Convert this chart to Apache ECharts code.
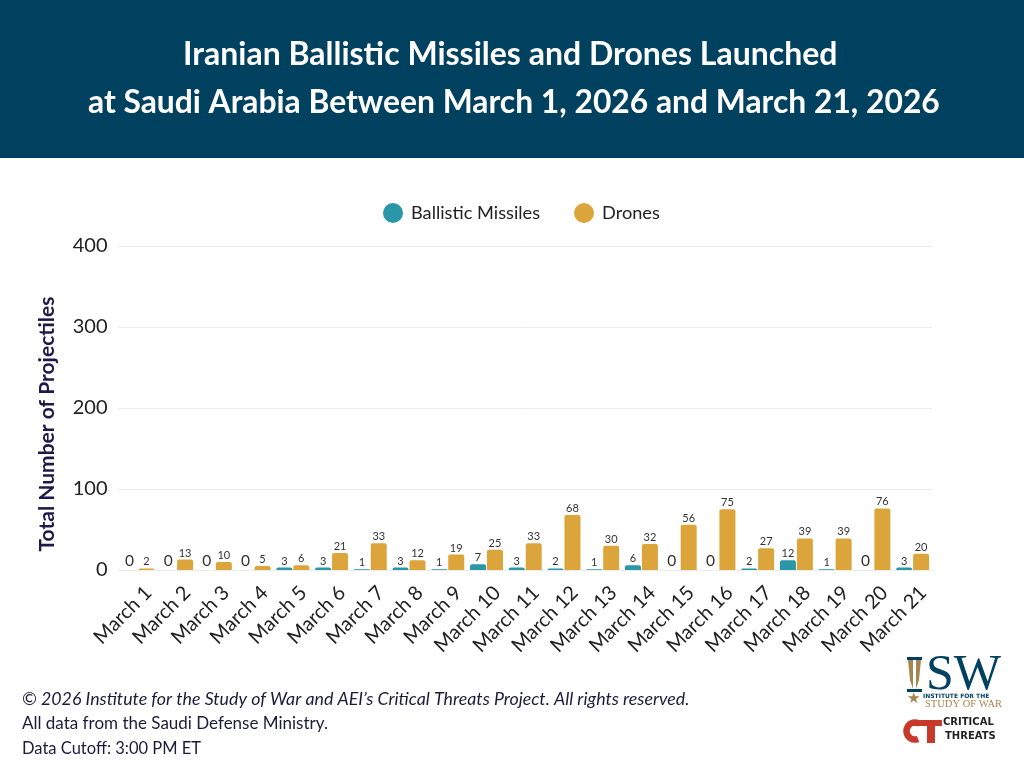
<!DOCTYPE html>
<html><head><meta charset="utf-8">
<style>html,body{margin:0;padding:0;background:#fff}#c{width:1024px;height:768px}</style>
<script src="https://cdn.jsdelivr.net/npm/echarts@6/dist/echarts.min.js"></script>
</head><body><div id="c"></div>
<script>
const categories = ['March 1','March 2','March 3','March 4','March 5','March 6','March 7','March 8','March 9','March 10','March 11','March 12','March 13','March 14','March 15','March 16','March 17','March 18','March 19','March 20','March 21'];
const ballisticMissiles = [0,0,0,0,3,3,1,3,1,7,3,2,1,6,0,0,2,12,1,0,3];
const drones = [2,13,10,5,6,21,33,12,19,25,33,68,30,32,56,75,27,39,39,76,20];
const yTicks = [0,100,200,300,400];
const titleLines = ['Iranian Ballistic Missiles and Drones Launched','at Saudi Arabia Between March 1, 2026 and March 21, 2026'];
const footerLines = ['© 2026 Institute for the Study of War and AEI’s Critical Threats Project. All rights reserved.','All data from the Saudi Defense Ministry.','Data Cutoff: 3:00 PM ET'];

const BLUE='#2a97a8', GOLD='#dca53c', NAVY='#00415f', RED='#c8392b', TAN='#a5864f', FONT='Lato';
const withLabels = arr => arr.map(v => ({
  value: v,
  label: {show:true, position:'top', distance:1, color:'#333', fontFamily:FONT,
          fontSize: v===0 ? 15.5 : 11}
}));
const chart = echarts.init(document.getElementById('c'), null, {renderer:'canvas'});
chart.setOption({
  animation:false,
  backgroundColor:'#fff',
  textStyle:{fontFamily:FONT},
  legend:{
    top:203, left:383, padding:0, itemWidth:20, itemHeight:20, itemGap:34, icon:'circle',
    textStyle:{fontFamily:FONT, fontSize:18.2, color:'#222', padding:[0,0,0,3]},
    data:['Ballistic Missiles','Drones']
  },
  grid:{left:118.5, right:92, top:246, bottom:198},
  xAxis:{
    type:'category', data:categories,
    axisLine:{show:true,lineStyle:{color:'#ececec'}}, axisTick:{show:false},
    axisLabel:{interval:0, rotate:45, fontFamily:FONT, fontSize:20, color:'#222', margin:30, padding:[0,-15,0,0]}
  },
  yAxis:{
    type:'value', min:0, max:yTicks[yTicks.length-1], interval:100,
    name:'Total Number of Projectiles', nameLocation:'middle', nameGap:61,
    nameTextStyle:{fontFamily:FONT, fontWeight:'bold', fontSize:21, color:'#1d1a4b', padding:[0,32,0,0]},
    axisLine:{show:false}, axisTick:{show:false},
    splitLine:{lineStyle:{color:'#e9e9e9'}},
    axisLabel:{fontFamily:FONT, fontSize:20, color:'#222', margin:11}
  },
  series:[
    {name:'Ballistic Missiles', type:'bar', data:withLabels(ballisticMissiles), barWidth:16, barGap:'6%',
     itemStyle:{color:BLUE, borderRadius:[2,2,0,0]}},
    {name:'Drones', type:'bar', data:withLabels(drones), barWidth:16,
     itemStyle:{color:GOLD, borderRadius:[2,2,0,0]}}
  ],
  graphic:[
    {type:'rect', z:-1, shape:{x:0,y:0,width:1024,height:158}, style:{fill:NAVY}},
    {type:'text', left:183, top:39, style:{text:titleLines[0], fontFamily:FONT, fontWeight:'bold', fontSize:32, fill:'#fff'}},
    {type:'text', left:88, top:87, style:{text:titleLines[1], fontFamily:FONT, fontWeight:'bold', fontSize:31.8, fill:'#fff'}},
    {type:'text', left:22, top:690, style:{text:footerLines[0], fontFamily:FONT, fontStyle:'italic', fontSize:17.8, fill:'#1d1a3a'}},
    {type:'text', left:22, top:715, style:{text:footerLines[1], fontFamily:FONT, fontSize:17, fill:'#1d1a3a'}},
    {type:'text', left:22, top:740, style:{text:footerLines[2], fontFamily:FONT, fontSize:16.5, fill:'#1d1a3a'}},
    // ISW logo
    {type:'rect', shape:{x:907,y:657,width:15,height:3}, style:{fill:NAVY}},
    {type:'rect', shape:{x:907,y:689,width:15,height:3}, style:{fill:NAVY}},
    {type:'polygon', shape:{points:[[908,660],[913,660],[913,689],[910,680]]}, style:{fill:TAN}},
    {type:'polygon', shape:{points:[[916,660],[921,660],[919,680],[916,689]]}, style:{fill:TAN}},
    {type:'text', left:926, top:651, style:{text:'SW', fontFamily:'"Liberation Serif"', fontSize:50, fill:NAVY}},
    {type:'text', left:907, top:692, style:{text:'★', fontFamily:'"DejaVu Sans"', fontSize:15, fill:TAN}},
    {type:'text', left:923, top:693, style:{text:'INSTITUTE FOR THE', fontFamily:'"DejaVu Sans"', fontWeight:'bold', fontSize:6, fill:NAVY}},
    {type:'text', left:925, top:699, style:{text:'STUDY OF WAR', fontFamily:'"Liberation Serif"', fontSize:10.5, fill:TAN}},
    // Critical Threats logo
    {type:'arc', shape:{cx:915,cy:731,r:8.5,startAngle:-1.0,endAngle:1.2,clockwise:false}, style:{stroke:RED,fill:null,lineWidth:6.5}},
    {type:'rect', shape:{x:913,y:720,width:29,height:6}, style:{fill:RED}},
    {type:'rect', shape:{x:927,y:720,width:8,height:23}, style:{fill:RED}},
    {type:'text', left:943, top:717, style:{text:'CRITICAL', fontFamily:'"DejaVu Sans"', fontWeight:'bold', fontSize:10, fill:'#222'}},
    {type:'text', left:945, top:731, style:{text:'THREATS', fontFamily:'"DejaVu Sans"', fontWeight:'bold', fontSize:10, fill:'#222'}}
  ]
});
</script></body></html>
